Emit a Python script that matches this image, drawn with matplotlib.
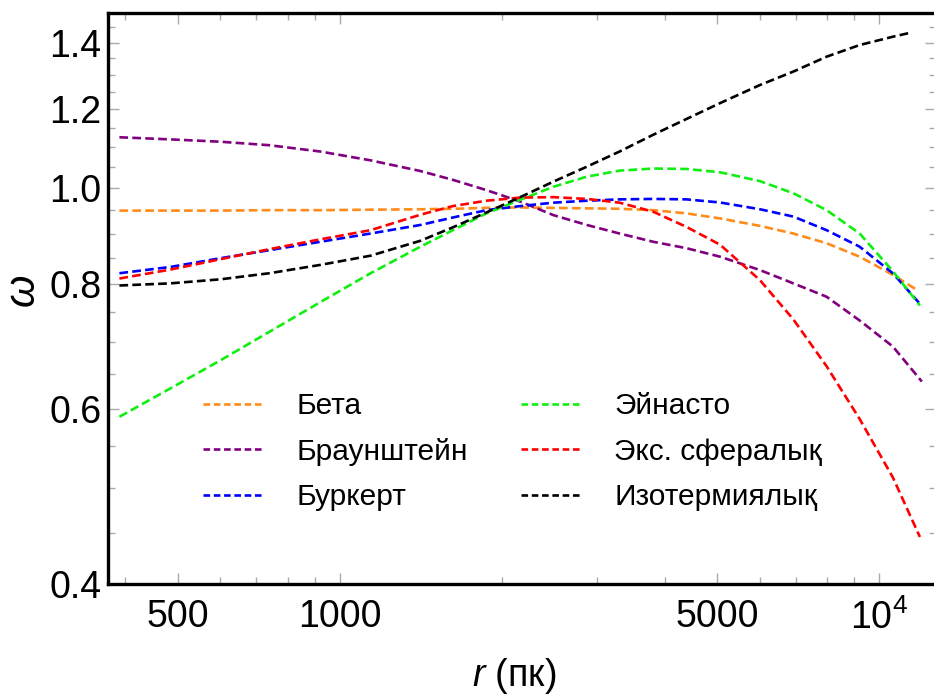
import matplotlib
matplotlib.use("Agg")
import matplotlib.pyplot as plt
from matplotlib.lines import Line2D
from matplotlib.ticker import FixedLocator, FixedFormatter, NullFormatter

plt.rcParams['mathtext.fontset'] = 'custom'
plt.rcParams['mathtext.rm'] = 'Liberation Sans'
plt.rcParams['mathtext.it'] = 'Liberation Sans:italic'

# shared radii (pc)
r = [390, 485, 600, 740, 920, 1140, 1410, 1620, 1870, 2160, 2490,
     2870, 3300, 3810, 4390, 5070, 6010, 6930, 7990, 9200, 10600]

w_beta = [0.949, 0.949, 0.949, 0.950, 0.950, 0.951, 0.952, 0.953, 0.955, 0.956, 0.955,
          0.954, 0.953, 0.950, 0.943, 0.932, 0.916, 0.900, 0.880, 0.853, 0.818]
w_brown = [1.1245, 1.119, 1.113, 1.104, 1.088, 1.066, 1.040, 1.019, 0.995, 0.969, 0.939,
           0.918, 0.900, 0.883, 0.870, 0.853, 0.827, 0.802, 0.7775, 0.736, 0.693]
w_burk = [0.821, 0.833, 0.850, 0.866, 0.883, 0.900, 0.918, 0.934, 0.950, 0.959, 0.9666,
          0.971, 0.974, 0.975, 0.974, 0.967, 0.952, 0.936, 0.907, 0.873, 0.821]
w_einasto = [0.589, 0.629, 0.671, 0.717, 0.768, 0.821, 0.873, 0.907, 0.943, 0.973, 1.003,
             1.0265, 1.041, 1.046, 1.045, 1.037, 1.016, 0.988, 0.950, 0.900, 0.825]
w_expsph = [0.811, 0.828, 0.848, 0.868, 0.888, 0.907, 0.940, 0.959, 0.971, 0.978, 0.979,
            0.975, 0.9666, 0.9466, 0.914, 0.877, 0.808, 0.738, 0.662, 0.586, 0.512]
w_iso = [0.798, 0.802, 0.8095, 0.821, 0.837, 0.855, 0.885, 0.913, 0.945, 0.979, 1.015,
         1.0505, 1.088, 1.131, 1.173, 1.217, 1.269, 1.309, 1.355, 1.392, 1.419]

# last point of each curve
r_end = [11700, 12000, 12000, 11900, 11900, 11480]
w_end = [0.791, 0.639, 0.761, 0.762, 0.446, 1.433]

labels = ["Бета", "Браунштейн", "Буркерт", "Эйнасто", "Экс. сфералық", "Изотермиялық"]
colors = ["#ff8c1a", "#800080", "#0000ff", "#11ee11", "#ff0000", "#000000"]
series = [w_beta, w_brown, w_burk, w_einasto, w_expsph, w_iso]

xticks = [500, 1000, 5000, 10000]
xticklabels = ["500", "1000", "5000", r"$10^{4}$"]
xminor = [400, 600, 700, 800, 900, 2000, 3000, 4000, 6000, 7000, 8000, 9000]
yticks = [0.4, 0.6, 0.8, 1.0, 1.2, 1.4]
yticklabels = ["0.4", "0.6", "0.8", "1.0", "1.2", "1.4"]
yminor = [0.45, 0.5, 0.55, 0.65, 0.7, 0.75, 0.85, 0.9, 0.95,
          1.05, 1.1, 1.15, 1.25, 1.3, 1.35, 1.45]

fig = plt.figure(figsize=(9.34, 7.0), dpi=100)
ax = fig.add_axes([0.116, 0.1657, 0.8862, 0.8161])

for w, we, re_, c in zip(series, w_end, r_end, colors):
    ax.plot(r + [re_], w + [we], color=c, lw=1.9, ls=(0, (3.3, 1.6)))

ax.set_xscale('log')
ax.set_yscale('log')
ax.set_xlim(372, 12750)
ax.set_ylim(0.4, 1.5)

ax.xaxis.set_major_locator(FixedLocator(xticks))
ax.xaxis.set_major_formatter(FixedFormatter(xticklabels))
ax.xaxis.set_minor_locator(FixedLocator(xminor))
ax.xaxis.set_minor_formatter(NullFormatter())
ax.yaxis.set_major_locator(FixedLocator(yticks))
ax.yaxis.set_major_formatter(FixedFormatter(yticklabels))
ax.yaxis.set_minor_locator(FixedLocator(yminor))
ax.yaxis.set_minor_formatter(NullFormatter())

tick_font = 'Liberation Sans'
ax.tick_params(which='both', direction='in', top=True, right=True,
               color='#aaaaaa', width=1)
ax.tick_params(which='major', length=8, labelsize=27)
ax.tick_params(which='minor', length=5)
ax.tick_params(axis='x', which='major', pad=11)
ax.tick_params(axis='y', which='major', pad=5)
for t in ax.get_xticklabels() + ax.get_yticklabels():
    t.set_fontfamily(tick_font)

for s in ax.spines.values():
    s.set_linewidth(2.4)

ax.set_xlabel("$r$ (пк)", fontsize=27, fontfamily=tick_font)
ax.set_ylabel("ω", fontsize=30, fontfamily=tick_font, style='italic')
ax.xaxis.set_label_coords(0.49, -0.126)
ax.yaxis.set_label_coords(-0.079, 0.515)

handles = [Line2D([], [], color=c, lw=1.9, ls=(0, (2.5, 1.4))) for c in colors]
ax.legend(handles, labels, ncol=2, frameon=False,
          prop={'family': 'Liberation Sans', 'size': 21.5},
          handlelength=2.0, handletextpad=1.14, columnspacing=1.75,
          labelspacing=0.59, borderpad=0, borderaxespad=0, loc='upper left',
          bbox_to_anchor=(203 / 934, 1 - 392 / 700),
          bbox_transform=fig.transFigure)

fig.savefig("out.png", dpi=100, facecolor='white')
